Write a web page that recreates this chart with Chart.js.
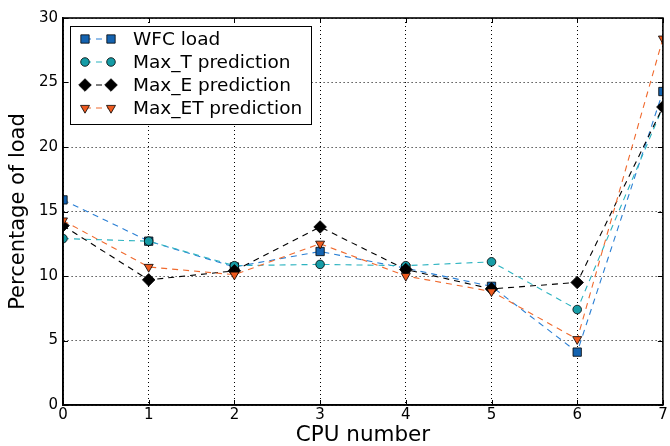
<!DOCTYPE html>
<html>
<head>
<meta charset="utf-8">
<script src="https://cdn.jsdelivr.net/npm/chart.js@4/dist/chart.umd.min.js"></script>
<style>
  html, body { margin: 0; padding: 0; background: #fff; }
  #wrap { width: 670px; height: 446px; }
</style>
</head>
<body>
<div id="wrap"><canvas id="c" width="670" height="446"></canvas></div>
<script>
// CPU indices along the x axis
const cpus = [0, 1, 2, 3, 4, 5, 6, 7];
// Load share per CPU (percent)
const wfcLoad   = [15.9, 12.7, 10.7, 11.9, 10.6, 9.2, 4.1, 24.3];
const maxT      = [12.9, 12.7, 10.8, 10.9, 10.8, 11.1, 7.4, 23.1];
const maxE      = [13.9, 9.7, 10.4, 13.8, 10.5, 9.0, 9.5, 23.1];
const maxET     = [14.3, 10.7, 10.1, 12.5, 10.0, 8.8, 5.1, 28.4];
const seriesNames = ['WFC load', 'Max_T prediction', 'Max_E prediction', 'Max_ET prediction'];
const yTicks = [0, 5, 10, 15, 20, 25, 30];

const FONT = 'DejaVu Sans';

function pts(vals) { return cpus.map((c, i) => ({ x: c, y: vals[i] })); }

const seriesStyle = [
  { line: '#2a7fd4', fill: '#1463b0', style: 'rect', radius: 5.9, rotation: 0 },
  { line: '#2cb3c0', fill: '#169ca6', style: 'circle', radius: 4.3, rotation: 0 },
  { line: '#000000', fill: '#000000', style: 'rectRot', radius: 6.3, rotation: 0 },
  { line: '#f06a2e', fill: '#ee5a1e', style: 'triangle', radius: 5.2, rotation: 180 }
];
const seriesData = [wfcLoad, maxT, maxE, maxET];

// later series are painted over earlier ones
const datasets = seriesData.map((vals, i) => ({
  label: seriesNames[i],
  data: pts(vals),
  order: seriesData.length - 1 - i,
  borderColor: seriesStyle[i].line,
  borderWidth: 1.1,
  borderDash: [6, 5],
  backgroundColor: seriesStyle[i].fill,
  pointStyle: seriesStyle[i].style,
  pointRadius: seriesStyle[i].radius,
  pointRotation: seriesStyle[i].rotation,
  pointBackgroundColor: seriesStyle[i].fill,
  pointBorderColor: '#000',
  pointBorderWidth: 0.8,
  tension: 0,
  clip: 0
}));

// Frame, inward tick marks on all sides, and a boxed legend in the upper left
const framePlugin = {
  id: 'frame',
  afterDraw(chart) {
    const { ctx, chartArea: a, scales } = chart;
    ctx.save();
    ctx.strokeStyle = '#000';
    ctx.lineWidth = 1;
    const tl = 5;
    ctx.beginPath();
    scales.x.ticks.forEach(t => {
      const px = Math.round(scales.x.getPixelForValue(t.value)) + 0.5;
      ctx.moveTo(px, a.bottom); ctx.lineTo(px, a.bottom - tl);
      ctx.moveTo(px, a.top); ctx.lineTo(px, a.top + tl);
    });
    scales.y.ticks.forEach(t => {
      const py = Math.round(scales.y.getPixelForValue(t.value)) + 0.5;
      ctx.moveTo(a.left, py); ctx.lineTo(a.left + tl, py);
      ctx.moveTo(a.right, py); ctx.lineTo(a.right - tl, py);
    });
    ctx.stroke();
    ctx.lineWidth = 1.6;
    ctx.strokeRect(a.left, a.top, a.right - a.left, a.bottom - a.top);

    // legend
    const lx = a.left + 7, ly = a.top + 8, lw = 241, lh = 98;
    ctx.fillStyle = '#fff';
    ctx.fillRect(lx, ly, lw, lh);
    ctx.lineWidth = 1;
    ctx.strokeStyle = '#000';
    ctx.strokeRect(lx + 0.5, ly + 0.5, lw, lh);
    chart.data.datasets.forEach((ds, i) => {
      const cy = ly + 13 + i * 23;
      const x1 = lx + 15, x2 = lx + 41;
      ctx.save();
      ctx.strokeStyle = ds.borderColor;
      ctx.lineWidth = 1.1;
      ctx.setLineDash([6, 5]);
      ctx.beginPath(); ctx.moveTo(x1, cy); ctx.lineTo(x2, cy); ctx.stroke();
      ctx.restore();
      const opts = {
        pointStyle: ds.pointStyle, radius: ds.pointRadius, rotation: ds.pointRotation,
        borderWidth: ds.pointBorderWidth
      };
      ctx.fillStyle = ds.pointBackgroundColor;
      ctx.strokeStyle = '#000';
      ctx.lineWidth = ds.pointBorderWidth;
      Chart.helpers.drawPoint(ctx, opts, x1, cy);
      ctx.fillStyle = ds.pointBackgroundColor;
      ctx.strokeStyle = '#000';
      Chart.helpers.drawPoint(ctx, opts, x2, cy);
      ctx.fillStyle = '#000';
      ctx.font = '18.5px "' + FONT + '"';
      ctx.textBaseline = 'middle';
      ctx.textAlign = 'left';
      ctx.fillText(ds.label, lx + 63, cy + 1);
    });
    ctx.restore();
  }
};

new Chart(document.getElementById('c'), {
  type: 'line',
  data: { datasets },
  plugins: [framePlugin],
  options: {
    responsive: false,
    animation: false,
    devicePixelRatio: 1,
    layout: { padding: { top: 18, right: 6, left: 0, bottom: 0 } },
    plugins: { legend: { display: false }, tooltip: { enabled: false } },
    scales: {
      x: {
        type: 'linear',
        min: 0, max: 7,
        afterFit(s) { s.height = 41; },
        ticks: { stepSize: 1, color: '#000', font: { family: FONT, size: 15 }, padding: 1, maxRotation: 0 },
        grid: { color: '#000', lineWidth: 1, drawTicks: false, tickLength: 0 },
        border: { display: true, color: '#000', width: 1.6, dash: [1, 3] },
        title: { display: true, text: 'CPU number', color: '#000', font: { family: FONT, size: 21.5, lineHeight: 1 }, padding: { top: 0, bottom: 0 } }
      },
      y: {
        min: 0, max: 30,
        afterFit(s) { s.width = 63; },
        afterBuildTicks(s) { s.ticks = yTicks.map(v => ({ value: v })); },
        ticks: { color: '#000', font: { family: FONT, size: 15 }, padding: 5 },
        grid: { color: '#000', lineWidth: 1, drawTicks: false, tickLength: 0 },
        border: { display: true, color: '#000', width: 1.6, dash: [1, 3] },
        title: { display: true, text: 'Percentage of load', color: '#000', font: { family: FONT, size: 21 }, padding: { top: 6, bottom: 0 } }
      }
    }
  }
});
</script>
</body>
</html>
